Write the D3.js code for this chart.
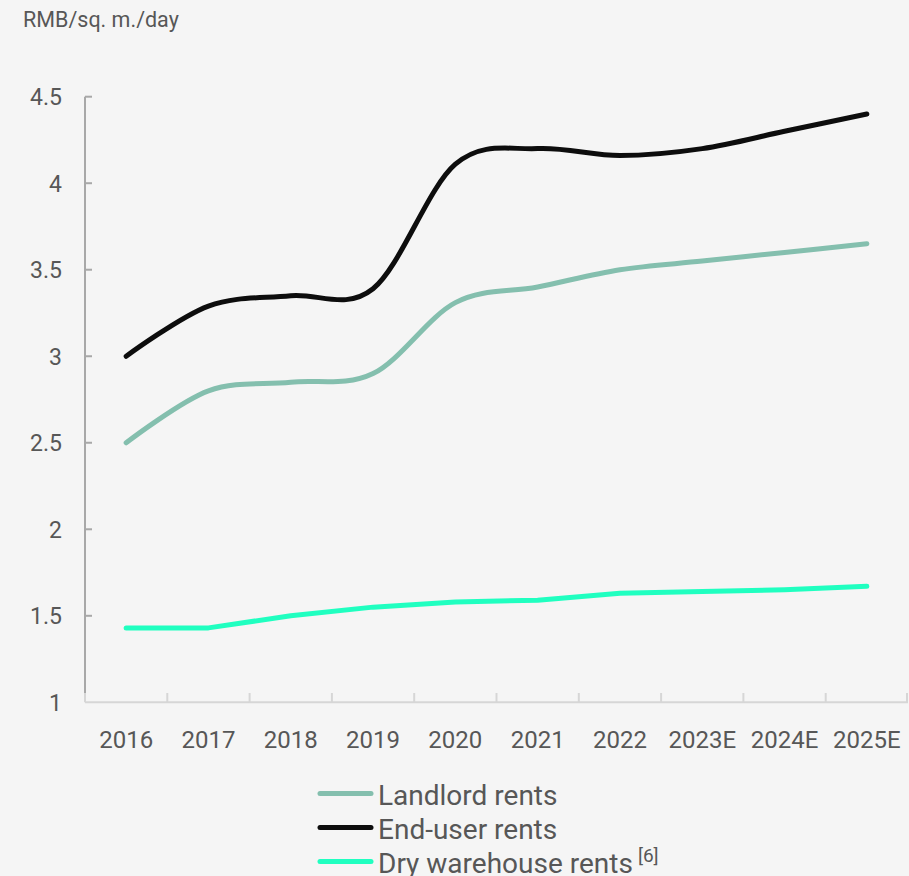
<!DOCTYPE html>
<html>
<head>
<meta charset="utf-8">
<script src="https://cdn.jsdelivr.net/npm/d3@7/dist/d3.min.js"></script>
<style>
  html, body { margin: 0; padding: 0; background: #f5f5f5; }
  svg { display: block; font-family: Roboto, "Noto Sans", sans-serif; }
</style>
</head>
<body>
<svg id="chart" width="909" height="876"></svg>
<script>
// Rent series, RMB per square metre per day
const years = ["2016", "2017", "2018", "2019", "2020", "2021", "2022", "2023E", "2024E", "2025E"];
const landlordRents = [2.5, 2.8, 2.85, 2.9, 3.31, 3.4, 3.5, 3.55, 3.6, 3.65];
const endUserRents  = [3.0, 3.29, 3.35, 3.39, 4.11, 4.2, 4.16, 4.2, 4.3, 4.4];
const dryWarehouseRents = [1.43, 1.43, 1.5, 1.55, 1.58, 1.59, 1.63, 1.64, 1.65, 1.67];
const yTicks = [1, 1.5, 2, 2.5, 3, 3.5, 4, 4.5];

const series = [
  { name: "Landlord rents", values: landlordRents, color: "#84bfae", curve: d3.curveCardinal.tension(0) },
  { name: "End-user rents", values: endUserRents, color: "#0d0d0d", curve: d3.curveCardinal.tension(0) },
  { name: "Dry warehouse rents", sup: "[6]", values: dryWarehouseRents, color: "#20ffc0", curve: d3.curveLinear }
];

const svg = d3.select("#chart");
const textColor = "#575757";

const x = d3.scaleBand().domain(years).range([85, 908]);
const y = d3.scaleLinear().domain([1, 4.5]).range([702.3, 96.7]);

// Unit label
svg.append("text")
  .attr("x", 23).attr("y", 27)
  .attr("fill", textColor)
  .attr("font-size", 21.5)
  .text("RMB/sq. m./day");

// Y axis: grey spine with inward ticks
const yAxis = svg.append("g");
yAxis.append("line")
  .attr("x1", 85).attr("x2", 85)
  .attr("y1", y(4.5)).attr("y2", 693)
  .attr("stroke", "#a8a8a8").attr("stroke-width", 2);
yAxis.selectAll("line.tick").data(yTicks.filter(d => d > 1)).join("line")
  .attr("class", "tick")
  .attr("x1", 85).attr("x2", 92)
  .attr("y1", d => y(d)).attr("y2", d => y(d))
  .attr("stroke", "#a8a8a8").attr("stroke-width", 2);
yAxis.selectAll("text").data(yTicks).join("text")
  .attr("x", 62).attr("y", d => y(d) + 8.5)
  .attr("text-anchor", "end")
  .attr("fill", textColor)
  .attr("font-size", 23)
  .text(d => d3.format("~g")(d));

// X axis: light baseline, ticks on band boundaries
const xAxis = svg.append("g");
xAxis.append("line")
  .attr("x1", 85).attr("x2", 908)
  .attr("y1", y(1)).attr("y2", y(1))
  .attr("stroke", "#d6d6d6").attr("stroke-width", 2);
xAxis.append("line")
  .attr("x1", 85).attr("x2", 85)
  .attr("y1", 693).attr("y2", y(1))
  .attr("stroke", "#d6d6d6").attr("stroke-width", 2);
xAxis.selectAll("line.tick").data(years.slice(1)).join("line")
  .attr("class", "tick")
  .attr("x1", d => x(d)).attr("x2", d => x(d))
  .attr("y1", 693).attr("y2", y(1))
  .attr("stroke", "#d6d6d6").attr("stroke-width", 2);
xAxis.append("line")
  .attr("x1", 907).attr("x2", 907)
  .attr("y1", 693).attr("y2", y(1))
  .attr("stroke", "#d6d6d6").attr("stroke-width", 2);
xAxis.selectAll("text").data(years).join("text")
  .attr("x", d => x(d) + x.bandwidth() / 2)
  .attr("y", 747.5)
  .attr("text-anchor", "middle")
  .attr("fill", textColor)
  .attr("font-size", 24)
  .text(d => d);

// Series lines
const cx = (d, i) => x(years[i]) + x.bandwidth() / 2;
series.forEach(s => {
  const line = d3.line().x(cx).y(d => y(d)).curve(s.curve);
  svg.append("path")
    .datum(s.values)
    .attr("d", line)
    .attr("fill", "none")
    .attr("stroke", s.color)
    .attr("stroke-width", 5)
    .attr("stroke-linecap", "round")
    .attr("stroke-linejoin", "round");
});

// Legend
const legend = svg.append("g");
series.forEach((s, i) => {
  const cy = 793.5 + i * 34;
  legend.append("line")
    .attr("x1", 320).attr("x2", 371)
    .attr("y1", cy).attr("y2", cy)
    .attr("stroke", s.color).attr("stroke-width", 5)
    .attr("stroke-linecap", "round");
  const t = legend.append("text")
    .attr("x", 378).attr("y", cy + 11.5)
    .attr("fill", textColor)
    .attr("font-size", 28)
    .text(s.name);
  if (s.sup) {
    t.append("tspan")
      .attr("dx", 5).attr("dy", -11)
      .attr("font-size", 19)
      .text(s.sup);
  }
});
</script>
</body>
</html>
